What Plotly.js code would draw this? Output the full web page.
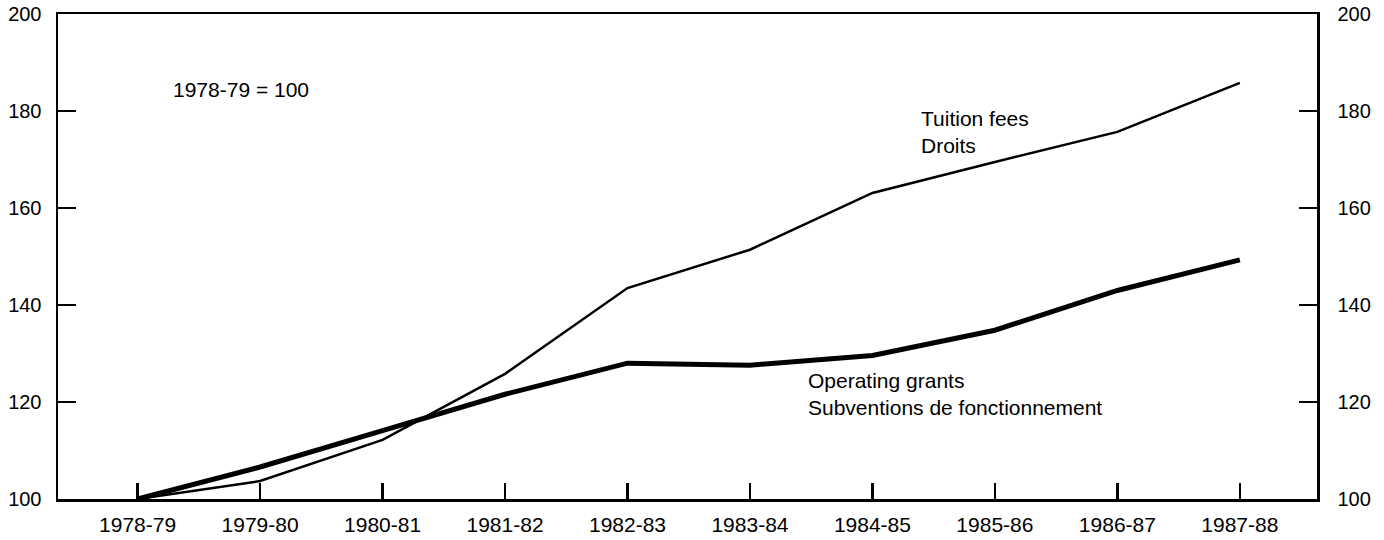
<!DOCTYPE html>
<html>
<head>
<meta charset="utf-8">
<script src="https://cdn.plot.ly/plotly-3.0.1.min.js"></script>
<style>html,body{margin:0;padding:0;background:#fff;}#chart{width:1384px;height:540px;}</style>
</head>
<body>
<div id="chart"></div>
<script>
const years = ["1978-79","1979-80","1980-81","1981-82","1982-83","1983-84","1984-85","1985-86","1986-87","1987-88"];
const tuitionFees = [100, 103.7, 112.2, 125.8, 143.5, 151.4, 163.1, 169.5, 175.7, 185.8];
const operatingGrants = [100, 106.6, 114.1, 121.6, 128.0, 127.6, 129.6, 134.8, 143.0, 149.3];
const yTicks = [100, 120, 140, 160, 180, 200];

const fam = "Liberation Sans, Arial, sans-serif";
const font = {family: fam, size: 20, color: "#000"};
const xfont = {family: fam, size: 21, color: "#000"};
const afont = {family: fam, size: 21, color: "#000"};

const traces = [
  {x: years, y: tuitionFees, type: "scatter", mode: "lines", line: {color: "#000", width: 2.5}, name: "Tuition fees", hoverinfo: "skip"},
  {x: years, y: operatingGrants, type: "scatter", mode: "lines", line: {color: "#000", width: 5}, name: "Operating grants", hoverinfo: "skip"},
  {x: years, y: operatingGrants, yaxis: "y2", type: "scatter", mode: "lines", line: {width: 0}, opacity: 0, showlegend: false, hoverinfo: "skip"}
];

const layout = {
  width: 1384, height: 540,
  margin: {l: 58, r: 67, t: 14, b: 41},
  paper_bgcolor: "#fff", plot_bgcolor: "#fff",
  showlegend: false,
  font: font,
  xaxis: {
    type: "category", range: [-0.65, 9.63],
    showline: true, linecolor: "#000", linewidth: 2.5, mirror: true,
    ticks: "inside", ticklen: 16, tickwidth: 2.5, tickcolor: "#000",
    showgrid: false, zeroline: false, tickfont: xfont, ticklabelstandoff: 5, fixedrange: true
  },
  yaxis: {
    range: [100, 200], tickvals: yTicks,
    showline: true, linecolor: "#000", linewidth: 2.5,
    ticks: "inside", ticklen: 18, tickwidth: 2.5, tickcolor: "#000",
    showgrid: false, zeroline: false, tickfont: font, ticklabelstandoff: 10, fixedrange: true
  },
  yaxis2: {
    range: [100, 200], tickvals: yTicks, overlaying: "y", side: "right",
    showline: true, linecolor: "#000", linewidth: 2.5,
    ticks: "inside", ticklen: 18, tickwidth: 2.5, tickcolor: "#000",
    showgrid: false, zeroline: false, tickfont: font, ticklabelstandoff: 14, fixedrange: true
  },
  annotations: [
    {text: "1978-79 = 100", xref: "paper", yref: "paper", x: 0.090, y: 0.845, xanchor: "left", yanchor: "middle", showarrow: false, font: afont},
    {text: "Tuition fees<br>Droits", xref: "paper", yref: "paper", x: 0.684, y: 0.757, xanchor: "left", yanchor: "middle", align: "left", showarrow: false, font: afont},
    {text: "Operating grants<br>Subventions de fonctionnement", xref: "paper", yref: "paper", x: 0.594, y: 0.2165, xanchor: "left", yanchor: "middle", align: "left", showarrow: false, font: afont}
  ]
};

Plotly.newPlot("chart", traces, layout, {staticPlot: true, displayModeBar: false});
</script>
</body>
</html>
